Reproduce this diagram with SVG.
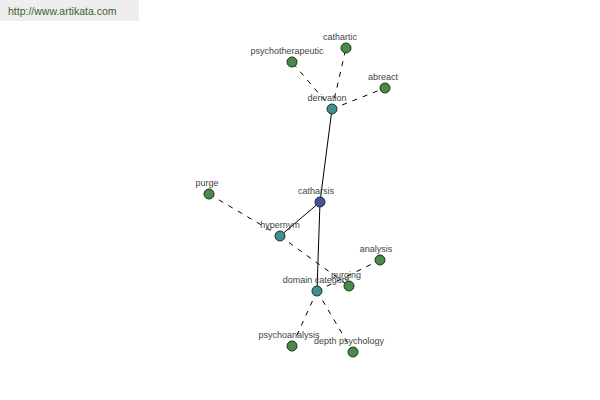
<svg xmlns="http://www.w3.org/2000/svg" width="600" height="400" viewBox="0 0 600 400">
<style>
.lbl{font-family:"Liberation Sans",Arial,sans-serif;font-size:9px;fill:#444;text-anchor:middle}
.n{stroke:#1f2f1f;stroke-width:1}
.root{fill:#4650a8}
.mid{fill:#3e8f8f}
.leaf{fill:#4a8a48}
.solid{stroke:#000;stroke-width:1;fill:none}
.dash{stroke:#000;stroke-width:1;stroke-dasharray:5,6;fill:none}
</style>
<rect x="0" y="0" width="139" height="21" fill="#eeeeee"/>
<text x="8" y="15" font-family="'Liberation Sans',Arial,sans-serif" font-size="10.5" fill="#3d5f2f">http://www.artikata.com</text>
<g id="connectors">
<line class="solid" x1="320" y1="202" x2="332" y2="109"/>
<line class="solid" x1="320" y1="202" x2="280" y2="236"/>
<line class="solid" x1="320" y1="202" x2="317" y2="291"/>
<line class="dash" x1="332" y1="109" x2="292" y2="62"/>
<line class="dash" x1="332" y1="109" x2="346" y2="48"/>
<line class="dash" x1="332" y1="109" x2="385" y2="88"/>
<line class="dash" x1="280" y1="236" x2="209" y2="194"/>
<line class="dash" x1="280" y1="236" x2="349" y2="286"/>
<line class="dash" x1="317" y1="291" x2="380" y2="260"/>
<line class="dash" x1="317" y1="291" x2="292" y2="346"/>
<line class="dash" x1="317" y1="291" x2="353" y2="352"/>
</g>
<g id="catharsis"><circle class="n root" cx="320" cy="202" r="5"/><text class="lbl" x="316" y="194">catharsis</text></g>
<g id="derivation"><circle class="n mid" cx="332" cy="109" r="5"/><text class="lbl" x="327" y="101">derivation</text></g>
<g id="hypernym"><circle class="n mid" cx="280" cy="236" r="5"/><text class="lbl" x="280" y="228">hypernym</text></g>
<g id="domain-category"><circle class="n mid" cx="317" cy="291" r="5"/><text class="lbl" x="316" y="283">domain category</text></g>
<g id="cathartic"><circle class="n leaf" cx="346" cy="48" r="5"/><text class="lbl" x="340" y="40">cathartic</text></g>
<g id="psychotherapeutic"><circle class="n leaf" cx="292" cy="62" r="5"/><text class="lbl" x="287" y="54">psychotherapeutic</text></g>
<g id="abreact"><circle class="n leaf" cx="385" cy="88" r="5"/><text class="lbl" x="383" y="80">abreact</text></g>
<g id="purge"><circle class="n leaf" cx="209" cy="194" r="5"/><text class="lbl" x="207" y="186">purge</text></g>
<g id="analysis"><circle class="n leaf" cx="380" cy="260" r="5"/><text class="lbl" x="376" y="252">analysis</text></g>
<g id="purging"><circle class="n leaf" cx="349" cy="286" r="5"/><text class="lbl" x="346" y="278">purging</text></g>
<g id="psychoanalysis"><circle class="n leaf" cx="292" cy="346" r="5"/><text class="lbl" x="289" y="338">psychoanalysis</text></g>
<g id="depth-psychology"><circle class="n leaf" cx="353" cy="352" r="5"/><text class="lbl" x="349" y="344">depth psychology</text></g>
</svg>
